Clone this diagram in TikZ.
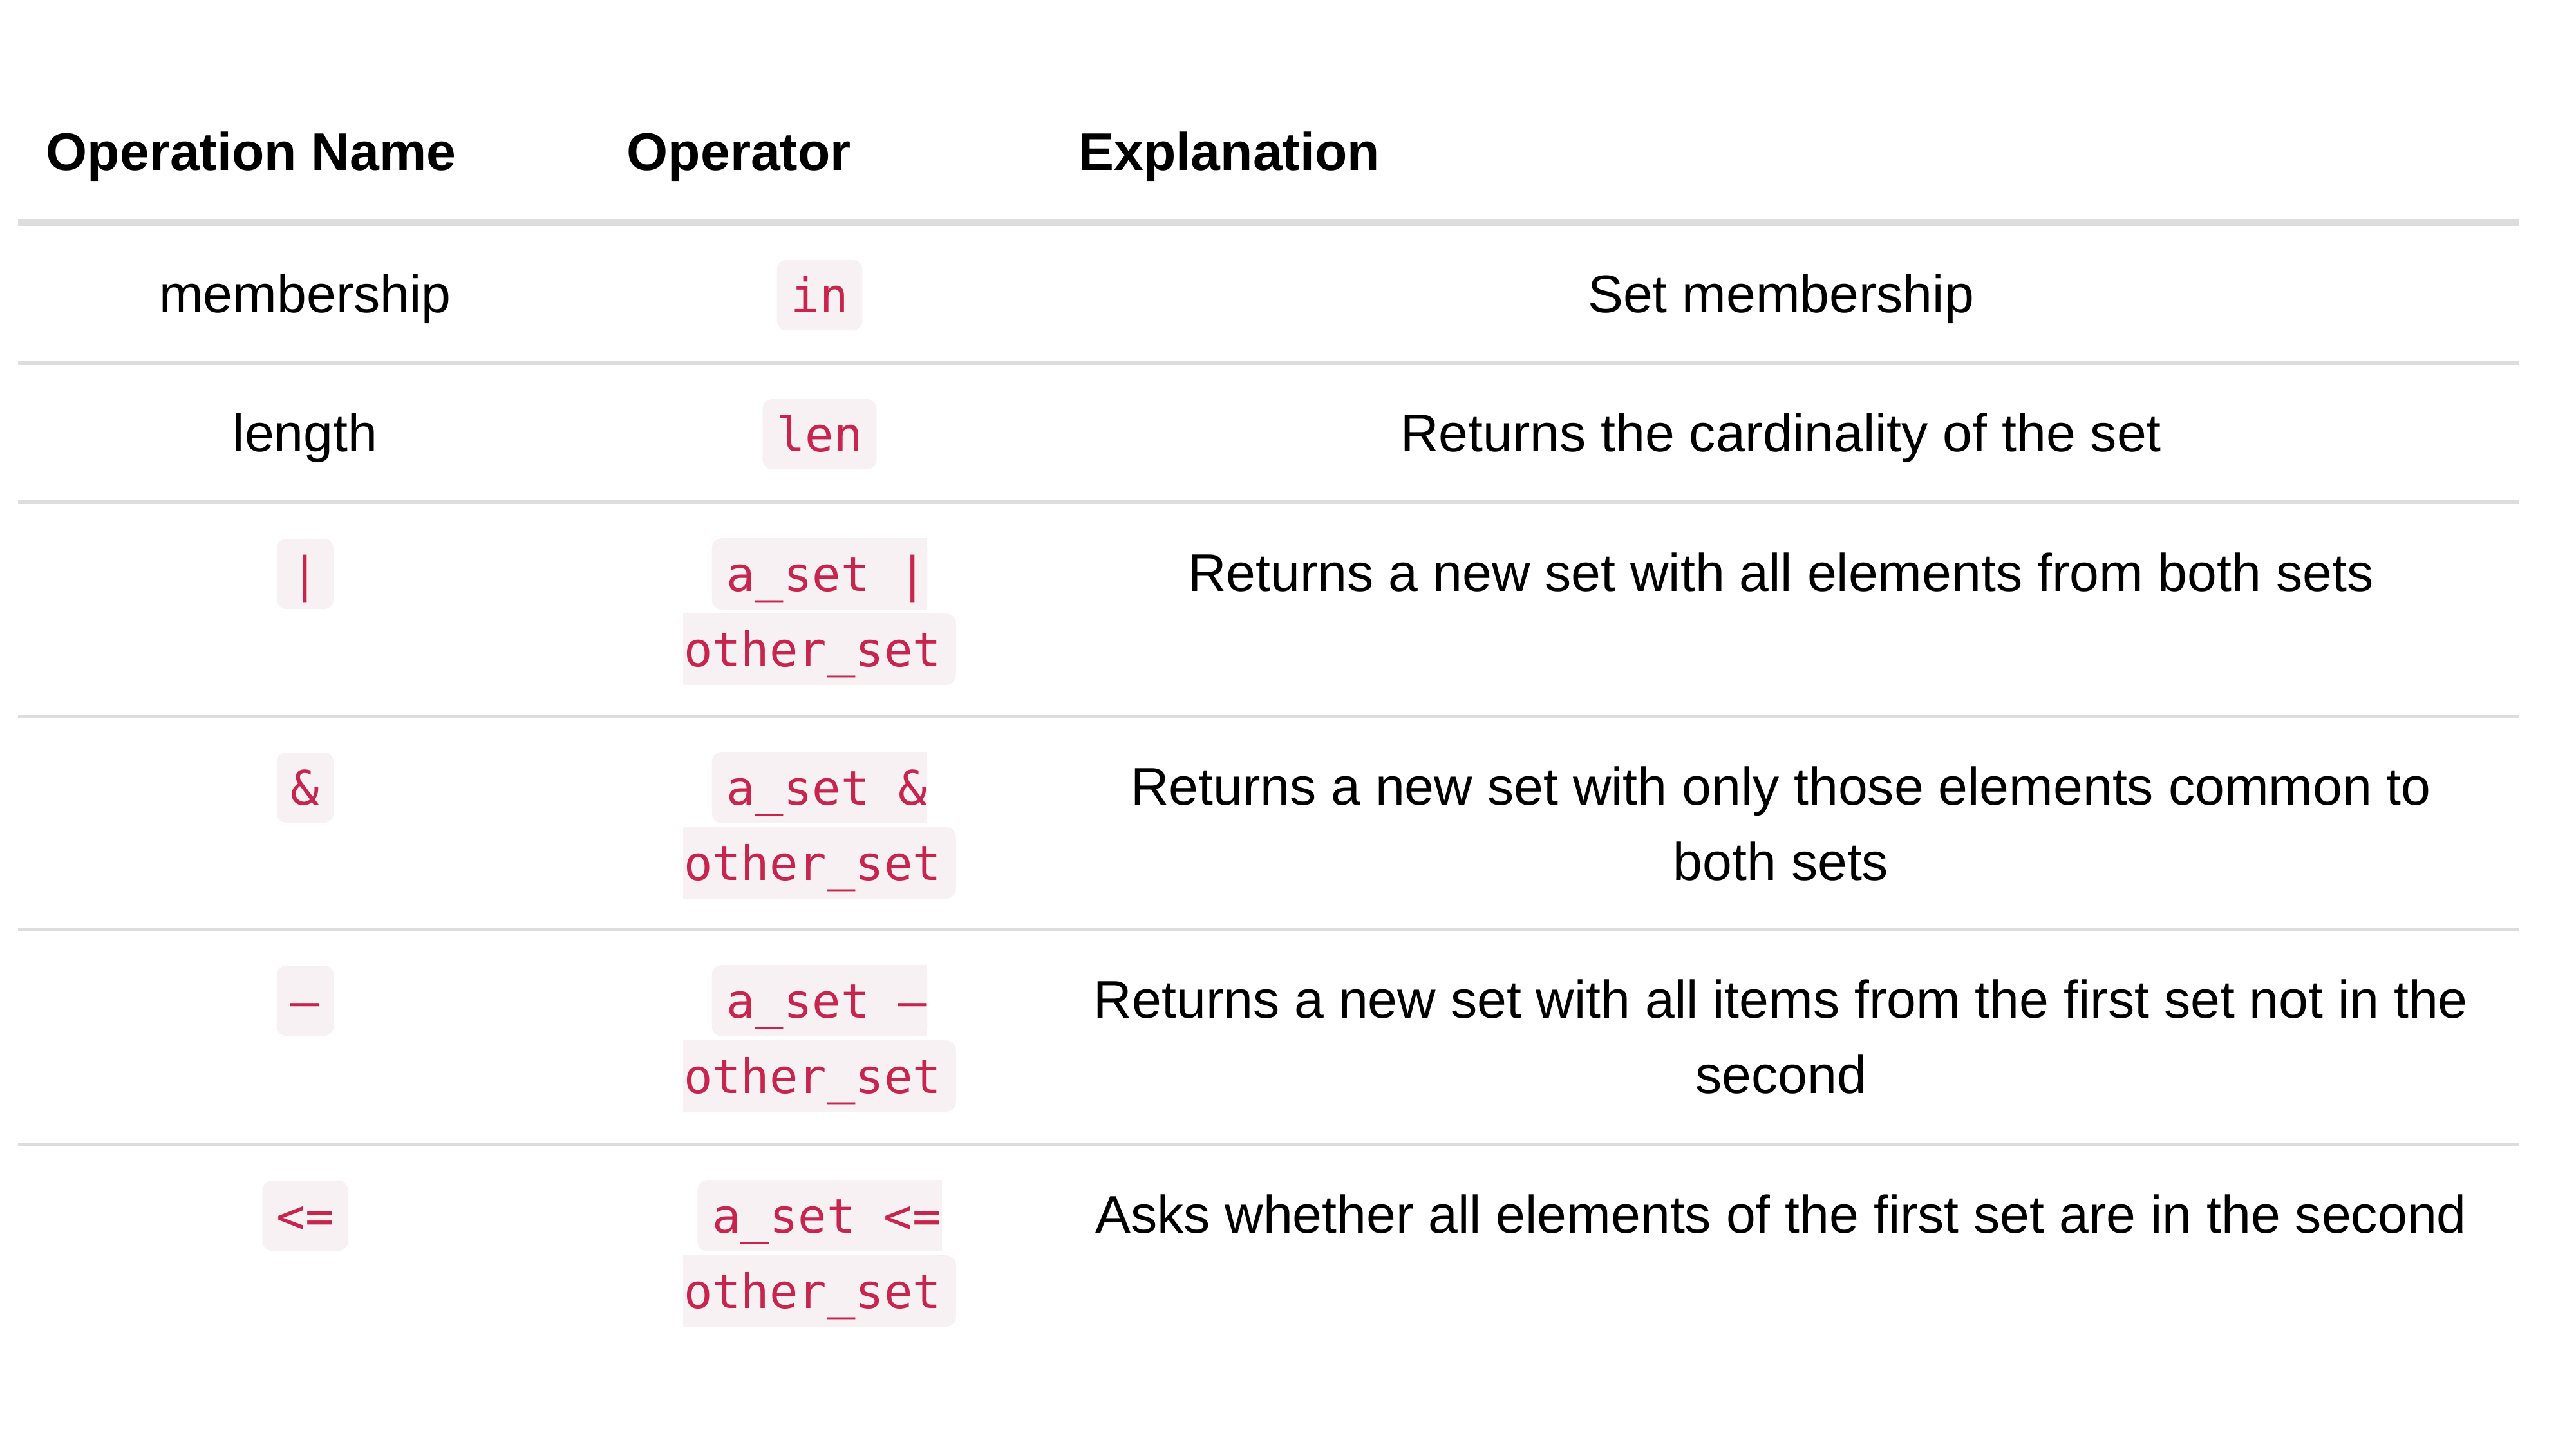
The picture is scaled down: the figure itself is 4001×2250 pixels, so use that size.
\documentclass[tikz,border=0pt]{standalone}
\usepackage{fontspec}
\setmainfont{Liberation Sans}
\newfontfamily\codefont{DejaVu Sans Mono}
\usetikzlibrary{backgrounds}
\definecolor{codefg}{HTML}{C7254E}
\definecolor{codebg}{HTML}{F7F1F3}
\definecolor{rulegray}{HTML}{DDDDDD}
\tikzset{
  body/.style={anchor=base, inner sep=0pt, font=\fontsize{20.6pt}{24pt}\selectfont},
  head/.style={anchor=base west, inner sep=0pt, font=\fontsize{20.6pt}{24pt}\selectfont\bfseries},
  code/.style={anchor=base, inner ysep=0pt, inner xsep=0pt, text height=20.25pt, text depth=7pt,
    text=codefg, font=\fontsize{18.45pt}{22pt}\codefont},
  codebox/.style={code, inner xsep=5.5pt, fill=codebg, rounded corners=3.75pt},
  hdrule/.style={draw=rulegray, line width=2.75pt},
  rowrule/.style={draw=rulegray, line width=1.5pt},
  cbg/.style={fill=codebg, rounded corners=3.75pt},
  cbgsharp/.style={fill=codebg}
}
\begin{document}
\begin{tikzpicture}[x=0.25pt,y=-0.25pt]
\useasboundingbox (0,0) rectangle (4001,2250);

% header
\node[head] (h1) at (71,264) {Operation Name};
\node[head] (h2) at (973,264) {Operator};
\node[head] (h3) at (1675,264) {Explanation};

% rules
\draw[hdrule] (28,345) -- (3913,345);
\foreach \yy in {564,780,1113,1444,1778} {\draw[rowrule] (28,\yy) -- (3913,\yy);}

% row 1
\node[body] (n1) at (474,485) {membership};
\node[codebox] (o1) at (1273,485) {in};
\node[body] (e1) at (2766,485) {Set membership};

% row 2
\node[body] (n2) at (474,701) {length};
\node[codebox] (o2) at (1273,701) {len};
\node[body] (e2) at (2766,701) {Returns the cardinality of the set};

% row 3
\node[codebox] (n3) at (474,918) {|};
\node[code] (o3a) at (1284,918) {a\_set |};
\node[code] (o3b) at (1262,1035) {other\_set};
\node[body] (e3) at (2766,918) {Returns a new set with all elements from both sets};

% row 4
\node[codebox] (n4) at (474,1250) {\&};
\node[code] (o4a) at (1284,1250) {a\_set \&};
\node[code] (o4b) at (1262,1367) {other\_set};
\node[body] (e4a) at (2766,1250) {Returns a new set with only those elements common to};
\node[body] (e4b) at (2766,1367) {both sets};

% row 5
\node[codebox] (n5) at (474,1581) {–};
\node[code] (o5a) at (1284,1581) {a\_set –};
\node[code] (o5b) at (1262,1698) {other\_set};
\node[body] (e5a) at (2766,1581) {Returns a new set with all items from the first set not in the};
\node[body] (e5b) at (2766,1698) {second};

% row 6
\node[codebox] (n6) at (474,1915) {<=};
\node[code] (o6a) at (1284,1915) {a\_set <=};
\node[code] (o6b) at (1262,2032) {other\_set};
\node[body] (e6) at (2766,1915) {Asks whether all elements of the first set are in the second};

% split code backgrounds
\begin{scope}[on background layer]
\foreach \n in {o3a,o4a,o5a,o6a} {
  \fill[cbg] ([xshift=-5.5pt]\n.south west) rectangle (\n.north east);
  \fill[cbgsharp] ([xshift=-5pt]\n.south east) rectangle (\n.north east);
}
\foreach \n in {o3b,o4b,o5b,o6b} {
  \fill[cbg] (\n.south west) rectangle ([xshift=5.5pt]\n.north east);
  \fill[cbgsharp] (\n.south west) rectangle ([xshift=5pt]\n.north west);
}
\end{scope}
\end{tikzpicture}
\end{document}
